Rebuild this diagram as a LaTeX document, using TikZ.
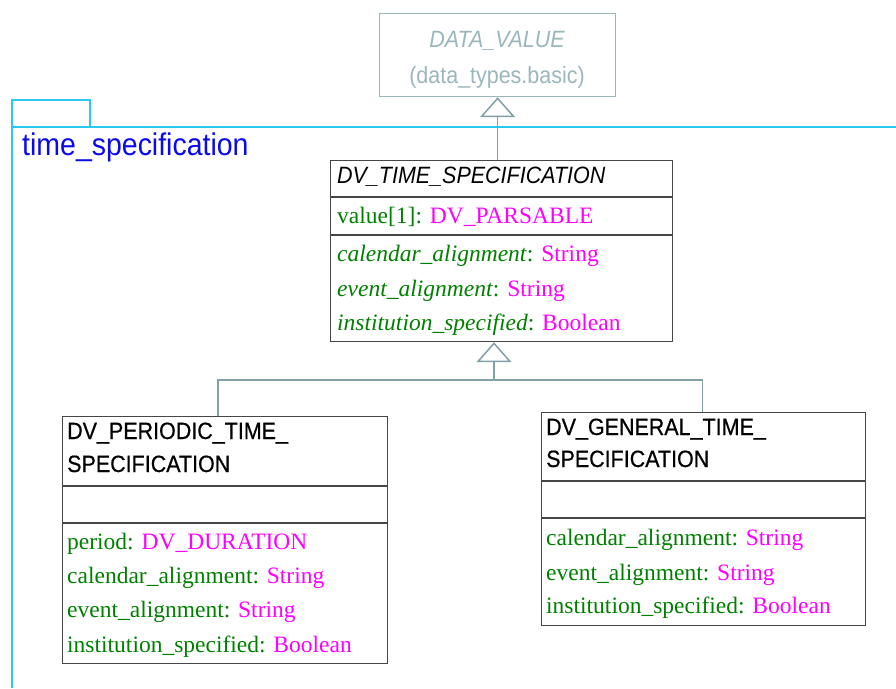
\documentclass[tikz,border=0pt]{standalone}
\usepackage{fontspec}
\setmainfont{Liberation Serif}
\setsansfont{Liberation Sans}
\newfontfamily\headfont[FakeStretch=0.91]{Liberation Sans}
\newfontfamily\headboldfont[FakeStretch=0.91, FakeBold=0.6]{Liberation Sans}
\usetikzlibrary{arrows.meta}

\definecolor{pkgcyan}{RGB}{40,200,240}
\definecolor{pkgblue}{RGB}{10,10,235}
\definecolor{extgray}{RGB}{155,182,188}
\definecolor{linkgray}{RGB}{130,160,166}
\definecolor{attrgreen}{RGB}{0,128,0}
\definecolor{typemag}{RGB}{255,0,255}
\definecolor{boxgray}{RGB}{70,70,70}

\newcommand{\attrtype}[1]{\textcolor{typemag}{#1}}

\tikzset{
	classbox/.style = {draw=boxgray, line width=1.2pt, anchor=north west, inner sep=0pt},
	sepline/.style = {draw=boxgray, line width=1.2pt},
	title/.style = {anchor=base west, inner sep=0pt, font=\headboldfont\fontsize{23.6}{27}\selectfont},
	attr/.style = {anchor=base west, inner sep=0pt, text=attrgreen, font=\rmfamily\fontsize{23.5}{28}\selectfont},
	link/.style = {draw=linkgray, line width=1.5pt},
	inherit/.style = {link, -{Triangle[length=20pt, width=35pt, fill=white]}},
	pkg/.style = {draw=pkgcyan, line width=1.8pt},
}

\begin{document}
\begin{tikzpicture}[x=1pt, y=-1pt]
	\useasboundingbox (0,0) rectangle (896,688);

	% package frame
	\draw[pkg] (12,127) |- (90,100) -- (90,127);
	\draw[pkg] (12,688) -- (12,127) -- (896,127);
	\node[anchor=base west, inner sep=0pt, text=pkgblue, font=\headfont\fontsize{31.3}{35}\selectfont] (pkgname) at (22,155) {time\_specification};

	% external parent
	\node[classbox, draw=extgray, minimum width=236pt, minimum height=83pt] (dv) at (379,13) {};
	\node[anchor=base, inner sep=0pt, text=extgray, font=\headfont\itshape\fontsize{23.6}{27}\selectfont] (dvname) at (497,47) {DATA\_VALUE};
	\node[anchor=base, inner sep=0pt, text=extgray, font=\headfont\fontsize{23.6}{27}\selectfont] (dvpkg) at (497,83) {(data\_types.basic)};

	% DV_TIME_SPECIFICATION
	\node[classbox, minimum width=342pt, minimum height=181pt] (dvts) at (330,160) {};
	\draw[sepline] (330,197) -- (672,197);
	\draw[sepline] (330,235) -- (672,235);
	\node[title, font=\headfont\itshape\fontsize{23.6}{27}\selectfont] (dvtsname) at (337,183) {DV\_TIME\_SPECIFICATION};
	\node[attr] (dvtsval) at (337,223) {value[1]: \attrtype{DV\_PARSABLE}};
	\node[attr] (dvtscal) at (337,261) {\textit{calendar\_alignment}: \attrtype{String}};
	\node[attr] (dvtsevt) at (337,296) {\textit{event\_alignment}: \attrtype{String}};
	\node[attr] (dvtsins) at (337,330) {\textit{institution\_specified}: \attrtype{Boolean}};

	% DV_PERIODIC_TIME_SPECIFICATION
	\node[classbox, minimum width=325pt, minimum height=247pt] (dvpts) at (62,416) {};
	\draw[sepline] (62,486) -- (387,486);
	\draw[sepline] (62,523) -- (387,523);
	\node[title] (dvptsname) at (67,439) {DV\_PERIODIC\_TIME\_};
	\node[title] (dvptsname2) at (67,472) {SPECIFICATION};
	\node[attr] (dvptsper) at (67,549) {period: \attrtype{DV\_DURATION}};
	\node[attr] (dvptscal) at (67,583) {calendar\_alignment: \attrtype{String}};
	\node[attr] (dvptsevt) at (67,617) {event\_alignment: \attrtype{String}};
	\node[attr] (dvptsins) at (67,652) {institution\_specified: \attrtype{Boolean}};

	% DV_GENERAL_TIME_SPECIFICATION
	\node[classbox, minimum width=324pt, minimum height=213pt] (dvgts) at (541,412) {};
	\draw[sepline] (541,481) -- (865,481);
	\draw[sepline] (541,518) -- (865,518);
	\node[title] (dvgtsname) at (546,435) {DV\_GENERAL\_TIME\_};
	\node[title] (dvgtsname2) at (546,467) {SPECIFICATION};
	\node[attr] (dvgtscal) at (546,545) {calendar\_alignment: \attrtype{String}};
	\node[attr] (dvgtsevt) at (546,580) {event\_alignment: \attrtype{String}};
	\node[attr] (dvgtsins) at (546,613) {institution\_specified: \attrtype{Boolean}};

	% generalisation
	\draw[inherit] (dv.south |- dvts.north) -- (dv.south);
	\coordinate (fork) at (494,380);
	\draw[link] ([xshift=-7pt]dvpts.north) |- (fork) -| ([xshift=-1pt]dvgts.north);
	\draw[inherit] (fork) -- (fork |- dvts.south);
\end{tikzpicture}
\end{document}
